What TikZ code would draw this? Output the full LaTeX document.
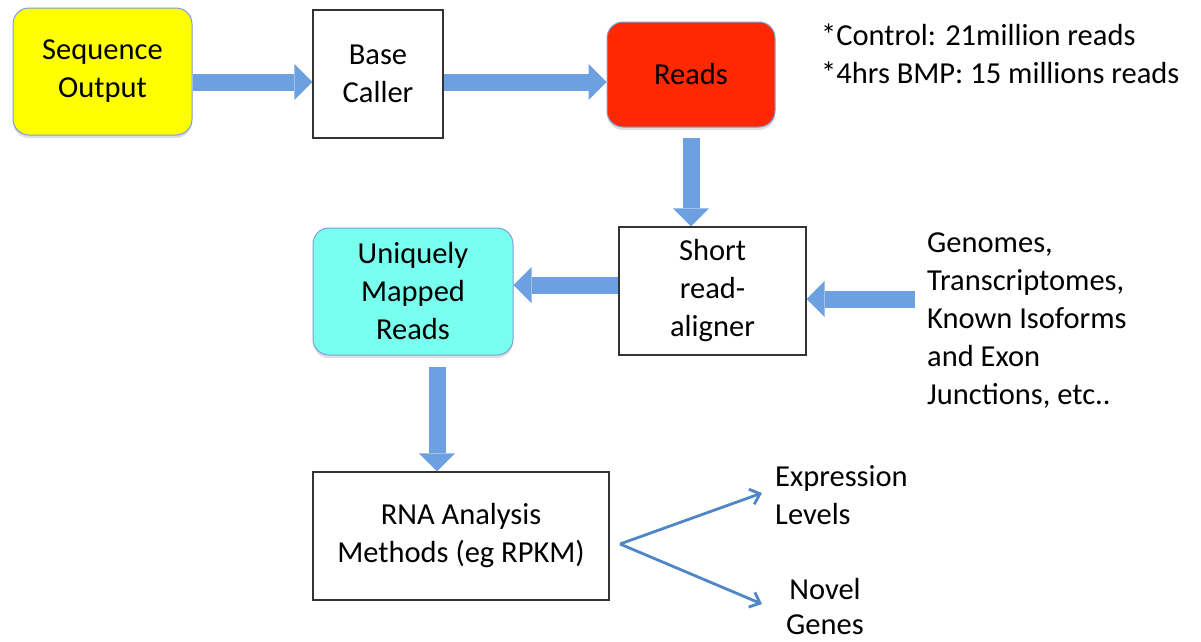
\documentclass[tikz,border=0pt]{standalone}
\usepackage{fontspec}
\setmainfont{Carlito}
\usetikzlibrary{arrows.meta,shadows,calc}
\definecolor{arrowblue}{RGB}{108,160,224}
\definecolor{thinblue}{RGB}{78,134,200}
\definecolor{boxedge}{RGB}{120,160,215}
\definecolor{seqyellow}{RGB}{255,255,0}
\definecolor{readsred}{RGB}{255,40,0}
\definecolor{mapcyan}{RGB}{120,255,238}
\begin{document}
\begin{tikzpicture}[x=1pt,y=-1pt,
  every node/.style={font=\fontsize{30.5}{38}\selectfont, inner sep=0pt},
  plainbox/.style={draw=black!80, line width=1.2pt, align=center},
  roundbox/.style={draw=boxedge, line width=1pt, rounded corners=16pt, align=center,
    drop shadow={opacity=0.25, shadow xshift=0pt, shadow yshift=-3pt}},
  blockarrow/.style={draw=arrowblue, line width=17pt,
    -{Triangle[width=36pt,length=18pt,line width=0pt]}},
  thinarrow/.style={draw=thinblue, line width=2.8pt,
    -{Straight Barb[length=9pt,width=16pt,line width=2.8pt]}},
  label/.style={align=left, anchor=north west}
]
\useasboundingbox (0,0) rectangle (1201,641);

% process boxes
\node[roundbox, fill=seqyellow, minimum width=179pt, minimum height=127pt] (seq) at (102.5,71.5) {Sequence\\Output};
\node[plainbox, minimum width=130pt, minimum height=128pt] (base) at (378,74) {Base\\Caller};
\node[roundbox, fill=readsred, minimum width=168pt, minimum height=105pt] (reads) at (691,74.5) {Reads};
\node[plainbox, minimum width=187pt, minimum height=128pt] (aligner) at (712.5,291) {Short\\read-\\aligner};
\node[roundbox, fill=mapcyan, minimum width=200pt, minimum height=127pt] (uniq) at (413,291.5) {Uniquely\\Mapped\\Reads};
\node[plainbox, minimum width=296pt, minimum height=128pt] (rna) at (461,536) {RNA Analysis\\Methods (eg RPKM)};

% free text
\node[label] (counts) at (821,24) {*Control: 21million reads\\*4hrs BMP: 15 millions reads};
\node[label] (refs) at (927,232) {Genomes,\\Transcriptomes,\\Known Isoforms\\and Exon\\Junctions, etc..};
\node[label] (expr) at (775,465) {Expression\\Levels};
\node[align=center, anchor=north, font=\fontsize{30.5}{35}\selectfont] (novel) at (825,578) {Novel\\Genes};

% block arrows
\draw[blockarrow] (seq.east |- 0,82) -- (base.west |- 0,82);
\draw[blockarrow] (base.east |- 0,82) -- (reads.west |- 0,82);
\draw[blockarrow] ([yshift=-10pt]reads.south) -- (reads.south |- aligner.north);
\draw[blockarrow] (aligner.west |- 0,285) -- (uniq.east |- 0,285);
\coordinate (gsrc) at (915,299);
\draw[blockarrow] (gsrc) -- (aligner.east |- gsrc);
\coordinate (dsrc) at (437,367);
\draw[blockarrow] (dsrc) -- (dsrc |- rna.north);

% output branches
\coordinate (fork) at (620,544);
\coordinate (toexpr) at (762,493);
\coordinate (tonovel) at (762,604);
\draw[thinarrow] (fork) -- (toexpr);
\draw[thinarrow] (fork) -- (tonovel);
\end{tikzpicture}
\end{document}
